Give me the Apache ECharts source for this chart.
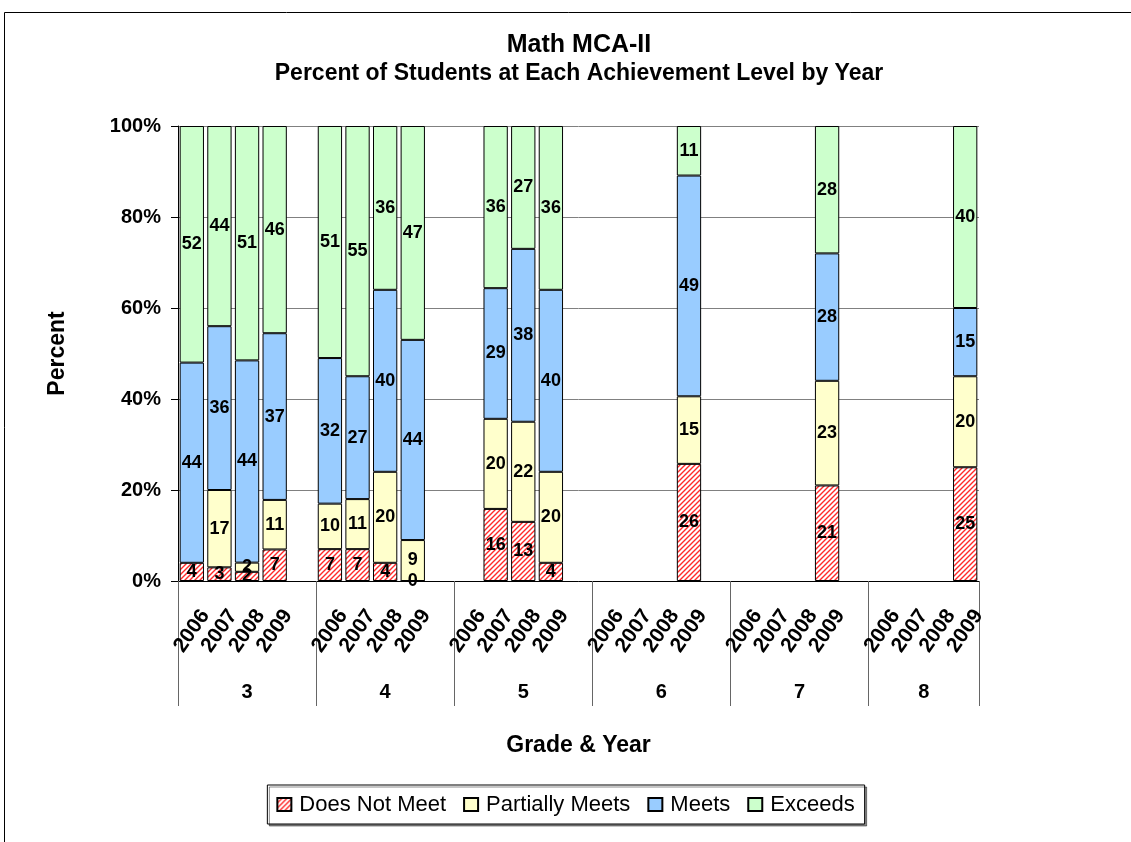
<!DOCTYPE html>
<html>
<head>
<meta charset="utf-8">
<script src="https://cdn.jsdelivr.net/npm/echarts@6/dist/echarts.min.js"></script>
<style>
html,body{margin:0;padding:0;background:#fff;}
#chart{width:1131px;height:842px;}
</style>
</head>
<body>
<div id="chart"></div>
<script>
// ---- Data ----
const grades = ['3', '4', '5', '6', '7', '8'];
const years = ['2006', '2007', '2008', '2009'];
const seriesNames = ['Does Not Meet', 'Partially Meets', 'Meets', 'Exceeds'];
// values listed grade by grade, years 2006..2009
const doesNotMeet    = [4, 3, 2, 7,   7, 7, 4, 0,    null, 16, 13, 4,   null, null, null, 26,  null, null, null, 21,  null, null, null, 25];
const partiallyMeets = [null, 17, 2, 11, 10, 11, 20, 9, null, 20, 22, 20,  null, null, null, 15,  null, null, null, 23,  null, null, null, 20];
const meets          = [44, 36, 44, 37, 32, 27, 40, 44, null, 29, 38, 40,  null, null, null, 49,  null, null, null, 28,  null, null, null, 15];
const exceeds        = [52, 44, 51, 46, 51, 55, 36, 47, null, 36, 27, 36,  null, null, null, 11,  null, null, null, 28,  null, null, null, 40];
const yTicks = [0, 20, 40, 60, 80, 100];

// ---- Build slot layout: 4 years per grade + one blank spacer slot (none after last grade) ----
const slotLabels = [];
const slotIndexOf = []; // index into value arrays, or -1 for spacer
const gradeStart = [];
grades.forEach((g, gi) => {
  gradeStart.push(slotLabels.length);
  years.forEach((y, yi) => { slotLabels.push(y); slotIndexOf.push(gi * years.length + yi); });
  if (gi < grades.length - 1) { slotLabels.push(''); slotIndexOf.push(-1); }
});
const nSlots = slotLabels.length;
const gradeBounds = gradeStart.concat([nSlots]);
const gradeCenters = grades.map((g, gi) => {
  const s = gradeStart[gi];
  const e = gi < grades.length - 1 ? gradeStart[gi + 1] : nSlots;
  return (s + e) / 2;
});

const dataArrays = [doesNotMeet, partiallyMeets, meets, exceeds];
// 100% stacked: each column is normalised to its total, labels keep the raw value
const totals = doesNotMeet.map((_, i) => dataArrays.reduce((s, a) => s + (a[i] == null ? 0 : a[i]), 0));
function toSlots(arr) {
  return slotIndexOf.map(i => {
    if (i < 0 || arr[i] == null) return null;
    return { value: totals[i] ? arr[i] / totals[i] * 100 : 0, raw: arr[i] };
  });
}

// ---- Hatch pattern ----
const pat = document.createElement('canvas');
pat.width = 5; pat.height = 5;
const pc = pat.getContext('2d');
pc.fillStyle = '#ffffff'; pc.fillRect(0, 0, 5, 5);
pc.strokeStyle = '#ff2a2a'; pc.lineWidth = 1.4;
pc.beginPath();
pc.moveTo(0, 5); pc.lineTo(5, 0);
pc.moveTo(-2.5, 2.5); pc.lineTo(2.5, -2.5);
pc.moveTo(2.5, 7.5); pc.lineTo(7.5, 2.5);
pc.stroke();

const FONT = 'Liberation Sans, Arial, sans-serif';
const colors = [{ image: pat, repeat: 'repeat' }, '#FFFFCC', '#99CCFF', '#CCFFCC'];

const chart = echarts.init(document.getElementById('chart'), null, { renderer: 'canvas' });
chart.setOption({
  animation: false,
  backgroundColor: '#fff',
  textStyle: { fontFamily: FONT },
  title: [
    { text: 'Math MCA-II', left: 579, top: 45, textAlign: 'center', textVerticalAlign: 'middle', padding: 0,
      textStyle: { fontFamily: FONT, fontSize: 25, fontWeight: 'bold', color: '#000' } },
    { text: 'Percent of Students at Each Achievement Level by Year', left: 579, top: 74, textAlign: 'center', textVerticalAlign: 'middle', padding: 0,
      textStyle: { fontFamily: FONT, fontSize: 23, fontWeight: 'bold', color: '#000' } }
  ],
  graphic: [{
    type: 'rect', silent: true, z: -1,
    shape: { x: 4.5, y: 12.5, width: 1200, height: 900 },
    style: { fill: null, stroke: '#000', lineWidth: 1 }
  }],
  legend: {
    data: seriesNames,
    icon: 'rect',
    left: 'center', top: 785,
    orient: 'horizontal',
    itemWidth: 14, itemHeight: 13, itemGap: 17,
    padding: [7, 10, 7, 9],
    borderColor: '#000', borderWidth: 1,
    backgroundColor: '#fff',
    shadowColor: 'rgba(0,0,0,0.45)', shadowOffsetX: 2, shadowOffsetY: 2, shadowBlur: 0,
    textStyle: { fontFamily: FONT, fontSize: 22, color: '#000', lineHeight: 25, padding: [0, 0, 0, 3] }
  },
  grid: { left: 178, right: 152, top: 126, bottom: 261, containLabel: false },
  xAxis: [
    {
      type: 'category', data: slotLabels, position: 'bottom',
      name: 'Grade & Year', nameLocation: 'middle', nameGap: 153,
      nameTextStyle: { fontFamily: FONT, fontSize: 23, fontWeight: 'bold', color: '#000' },
      axisLine: { show: true, lineStyle: { color: '#000', width: 1 } },
      axisTick: { show: false },
      axisLabel: { interval: 0, rotate: 55, align: 'center', verticalAlign: 'middle', margin: 50,
        fontFamily: FONT, fontSize: 21, fontWeight: 'bold', color: '#000' },
      splitLine: { show: false }
    },
    {
      type: 'value', min: 0, max: nSlots, position: 'bottom',
      axisLine: { show: false },
      splitLine: { show: false },
      axisTick: { show: true, customValues: gradeBounds, length: 125, inside: false, lineStyle: { color: '#666', width: 1 } },
      axisLabel: { show: true, customValues: gradeCenters, margin: 111, verticalAlign: 'middle',
        formatter: function (v) { const i = gradeCenters.indexOf(v); return i >= 0 ? grades[i] : ''; },
        fontFamily: FONT, fontSize: 20, fontWeight: 'bold', color: '#000' }
    }
  ],
  yAxis: {
    type: 'value', min: 0, max: 100, interval: 20,
    name: 'Percent', nameLocation: 'middle', nameGap: 109,
    nameTextStyle: { fontFamily: FONT, fontSize: 23, fontWeight: 'bold', color: '#000' },
    axisLine: { show: true, lineStyle: { color: '#000', width: 1 } },
    axisTick: { show: true, length: 7, lineStyle: { color: '#000' } },
    axisLabel: { formatter: function (v) { return yTicks.indexOf(v) >= 0 ? v + '%' : ''; }, margin: 17,
      fontFamily: FONT, fontSize: 20, fontWeight: 'bold', color: '#000' },
    splitLine: { show: true, lineStyle: { color: '#808080', width: 1 } }
  },
  series: seriesNames.map((name, si) => ({
    name: name, type: 'bar', stack: 'total', xAxisIndex: 0, yAxisIndex: 0,
    barCategoryGap: '12%',
    data: toSlots(dataArrays[si]),
    itemStyle: { color: colors[si], borderColor: '#000', borderWidth: 1 },
    label: { show: true, position: 'inside',
      formatter: function (p) { return (p.data == null || p.data.raw == null) ? '' : String(p.data.raw); },
      fontFamily: FONT, fontSize: 18, fontWeight: 'bold', color: '#000' },
    labelLayout: { hideOverlap: false }
  }))
});
</script>
</body>
</html>
